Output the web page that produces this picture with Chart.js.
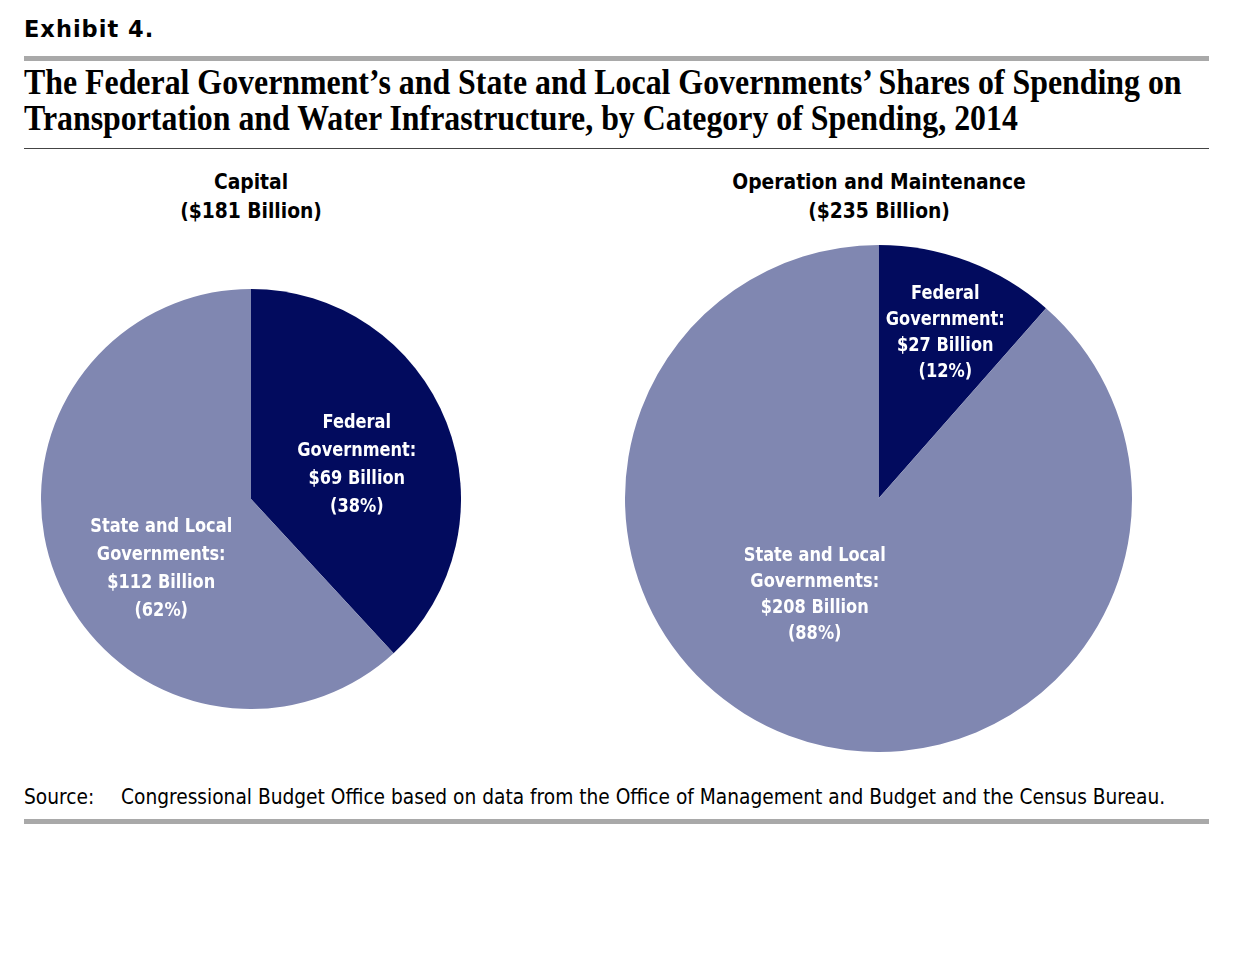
<!DOCTYPE html>
<html lang="en">

<head>
    <meta charset="UTF-8">
    <title>Exhibit 4</title>
    <script src="https://cdn.jsdelivr.net/npm/chart.js"></script>
    <style>
        body { margin: 0; background: #fff; width: 1242px; height: 966px; position: relative; overflow: hidden; }
        .abs { position: absolute; }
        #exhibit { left: 24px; top: 16px; font: bold 22.5px "DejaVu Sans", sans-serif; letter-spacing: 1px; }
        .thick { left: 24px; width: 1185px; height: 5px; background: #a9a9a9; }
        #title { left: 24px; top: 65px; font: bold 35px/36px "Liberation Serif", serif; transform: scaleX(0.91); transform-origin: left top; white-space: nowrap; color: #000; }
        #thin { left: 24px; top: 148px; width: 1185px; height: 1px; background: #444; }
        .pietitle { font: bold 20.8px/29px "DejaVu Sans Condensed", sans-serif; text-align: center; width: 500px; }
        #source { left: 24px; top: 785px; font: 20.7px "DejaVu Sans Condensed", sans-serif; white-space: nowrap; }
        #source span { display: inline-block; width: 97px; }
    </style>
</head>

<body>
    <div id="exhibit" class="abs">Exhibit 4.</div>
    <div class="abs thick" style="top:56px"></div>
    <div id="title" class="abs">The Federal Government’s and State and Local Governments’ Shares of Spending on<br>Transportation and Water Infrastructure, by Category of Spending, 2014</div>
    <div id="thin" class="abs"></div>

    <div class="abs pietitle" style="left:1px; top:168px">Capital<br>($181 Billion)</div>
    <div class="abs pietitle" style="left:629px; top:168px">Operation and Maintenance<br>($235 Billion)</div>

    <div class="abs" style="left:41px; top:289px; width:420px; height:420px"><canvas id="capitalChart"></canvas></div>
    <div class="abs" style="left:625px; top:245px; width:507px; height:507px"><canvas id="omChart"></canvas></div>

    <div id="source" class="abs"><span>Source:</span>Congressional Budget Office based on data from the Office of Management and Budget and the Census Bureau.</div>
    <div class="abs thick" style="top:819px"></div>

    <script>
        const categories = ['Federal Government', 'State and Local Governments'];
        const capitalValues = [69, 112];      // $ billions
        const omValues = [27, 208];           // $ billions
        const capitalPercents = [38, 62];
        const omPercents = [12, 88];
        const sliceColors = ['#020b5e', '#8087b1'];

        function labelLines(i, value, pct) {
            if (i === 0) return ['Federal', 'Government:', '$' + value + ' Billion', '(' + pct + '%)'];
            return ['State and Local', 'Governments:', '$' + value + ' Billion', '(' + pct + '%)'];
        }

        // draws the white text block inside each slice
        const sliceLabels = {
            id: 'sliceLabels',
            afterDatasetsDraw(chart, args, opts) {
                const ctx = chart.ctx;
                const meta = chart.getDatasetMeta(0);
                const values = chart.data.datasets[0].data;
                ctx.save();
                ctx.fillStyle = '#fff';
                ctx.textAlign = 'center';
                ctx.textBaseline = 'middle';
                ctx.font = 'bold ' + opts.size + 'px "DejaVu Sans Condensed", sans-serif';
                meta.data.forEach((arc, i) => {
                    const p = arc.tooltipPosition();
                    const x = p.x + opts.shift[i][0];
                    const y = p.y + opts.shift[i][1];
                    const lines = labelLines(i, values[i], opts.percents[i]);
                    lines.forEach((t, k) => {
                        ctx.save();
                        ctx.translate(x, y + (k - (lines.length - 1) / 2) * opts.lineHeight);
                        ctx.scale(0.9, 1);
                        ctx.fillText(t, 0, 0);
                        ctx.restore();
                    });
                });
                ctx.restore();
            }
        };

        function makePie(id, values, percents, shift, size, lineHeight) {
            return new Chart(document.getElementById(id), {
                type: 'pie',
                data: {
                    labels: categories,
                    datasets: [{
                        data: values,
                        backgroundColor: sliceColors,
                        borderWidth: 0
                    }]
                },
                options: {
                    responsive: true,
                    maintainAspectRatio: false,
                    animation: false,
                    layout: { padding: 0 },
                    plugins: {
                        legend: { display: false },
                        tooltip: { enabled: false },
                        sliceLabels: { percents: percents, shift: shift, size: size, lineHeight: lineHeight }
                    }
                },
                plugins: [sliceLabels]
            });
        }

        makePie('capitalChart', capitalValues, capitalPercents, [[8, 4], [8, 32]], 20, 28);
        makePie('omChart', omValues, omPercents, [[22, -47], [-19, -22]], 20, 26);
    </script>
</body>

</html>
